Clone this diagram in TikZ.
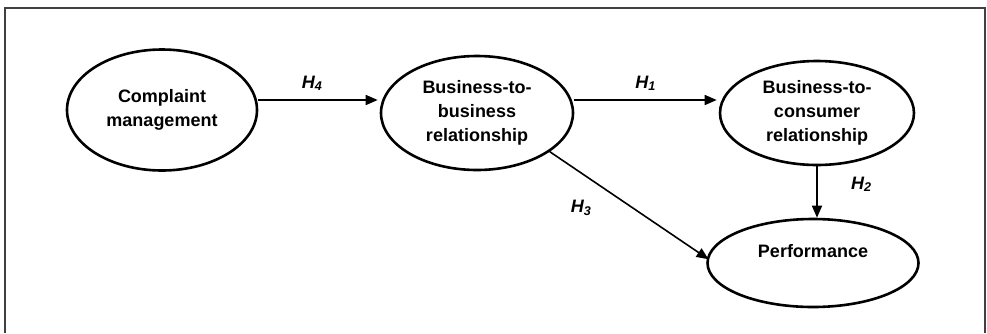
\documentclass[tikz,border=0pt]{standalone}
\usepackage{fontspec}
\setmainfont{Liberation Sans}
\usepackage{tikz}
\usetikzlibrary{arrows.meta}
\usetikzlibrary{shapes.geometric}
\usetikzlibrary{positioning}
\tikzset{construct/.style = {draw, ellipse, line width = 2.6pt, align = center,
                             inner sep = 0, font = \fontsize{18}{24}\selectfont\bfseries}}
\tikzset{arr/.style = {-{Triangle[length=12pt, width=10pt]}, line width = 1.6pt}}
\tikzset{hyp/.style = {font = \fontsize{18}{20}\selectfont\bfseries\itshape}}
\newcommand{\hyp}[1]{H\textsubscript{#1}}

\begin{document}
\begin{tikzpicture}[x=1pt, y=-1pt]
      \useasboundingbox (0, 0) rectangle (987, 333);
      \draw [line width=1.5pt, black!75] (5, 333) -- (5, 8) -- (985, 8) -- (985, 333);

      \node [construct, minimum width=190, minimum height=121] (cm) at (162, 110) {Complaint\\management};
      \node [construct, minimum width=192, minimum height=114] (btb) at (477, 113) {Business-to-\\business\\relationship};
      \node [construct, minimum width=194, minimum height=104] (btc) at (817, 113) {Business-to-\\consumer\\relationship};
      \node [construct, minimum width=211, minimum height=88] (perf) at (813, 263) {Performance\\ \mbox{}};

      \draw [arr] ([yshift=10pt]cm.east) -- ([yshift=13pt, xshift=-2pt]btb.west)
            node [hyp, pos=0.45, above=5pt] {\hyp{4}};
      \draw [arr] ([yshift=13pt]btb.east) -- ([yshift=13pt, xshift=-2pt]btc.west)
            node [hyp, pos=0.5, above=5pt] {\hyp{1}};
      \draw [arr] (btc.south) -- (btc.south |- perf.north)
            node [hyp, pos=0.35, right=30pt] {\hyp{2}};
      \draw [arr] (btb.-28) -- ([xshift=2pt]perf.178)
            node [hyp, pos=0.3, below left=12pt and 2pt] {\hyp{3}};
    \end{tikzpicture}
\end{document}
